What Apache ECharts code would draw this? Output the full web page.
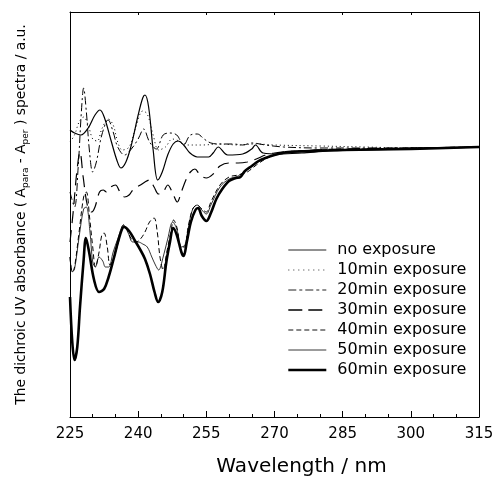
<!DOCTYPE html>
<html><head><meta charset="utf-8">
<script src="https://cdn.jsdelivr.net/npm/echarts@6/dist/echarts.min.js"></script>
<style>html,body{margin:0;padding:0;background:#fff}#c{width:494px;height:480px}</style>
</head><body><div id="c"></div>
<script>
const seriesNames = ['no exposure','10min exposure','20min exposure','30min exposure','40min exposure','50min exposure','60min exposure'];
const xTicks = [225,240,255,270,285,300,315];

const noExposure = [[225,0.17],[226,0.14],[227.4,0.12],[229,0.19],[230.5,0.32],[231.6,0.37],[232.6,0.29],[234,0.07],[235.3,-0.13],[236.2,-0.21],[237.3,-0.15],[238.5,0.02],[240,0.32],[241,0.49],[241.5,0.52],[242.3,0.40],[243.3,-0.03],[244.3,-0.33],[245.3,-0.25],[246.5,-0.08],[247.7,0.03],[248.8,0.06],[250,0.02],[251.4,-0.06],[253,-0.10],[255.5,-0.10],[256.5,-0.06],[257.6,0.00],[259.7,-0.08],[263,-0.07],[265,-0.02],[265.8,0.02],[267.5,-0.06],[271,-0.07],[276,-0.06],[282,-0.04],[290,-0.03],[300,-0.02],[308,-0.01],[315,0.0]];
const tenMin = [[225,0.05],[226,0.12],[227,0.25],[228,0.30],[229,0.22],[230,0.08],[231,0.06],[232,0.18],[233.4,0.28],[234.5,0.22],[235.5,0.05],[236.5,-0.03],[238,0.0],[239.5,0.20],[241,0.36],[242,0.33],[243.3,0.12],[244.5,-0.03],[246,0.0],[247.5,0.08],[249,0.06],[251,0.02],[254,0.02],[258,0.03],[262,0.02],[266,0.03],[270,0.02],[280,0.01],[290,0.0],[300,-0.01],[315,0.0]];
const twentyMin = [[225,-0.45],[226,-0.6],[226.8,-0.2],[227.5,0.35],[228.0,0.59],[228.6,0.35],[229.3,-0.05],[230,-0.25],[230.8,-0.15],[232,0.12],[233.4,0.27],[234.5,0.15],[235.5,0.0],[237,-0.08],[238.5,-0.02],[240,0.08],[241.2,0.18],[242.5,0.05],[244,-0.02],[245.5,0.12],[247,0.14],[248.5,0.12],[250,0.02],[251.5,0.12],[253,0.13],[254.5,0.08],[256,0.04],[258,0.03],[261,0.03],[263,0.02],[265,0.04],[268,0.02],[272,0.0],[280,-0.01],[290,-0.01],[300,-0.01],[315,0.0]];
const thirtyMin = [[225,-0.95],[225.7,-0.65],[226.5,-0.25],[227.2,-0.05],[227.9,-0.3],[228.9,-0.6],[229.8,-0.65],[230.5,-0.6],[231.5,-0.45],[232.3,-0.43],[233,-0.45],[234,-0.40],[235,-0.38],[236,-0.45],[237,-0.50],[238,-0.48],[239,-0.42],[240.5,-0.38],[241.5,-0.35],[242.5,-0.33],[243.5,-0.40],[244.5,-0.47],[245.5,-0.45],[246.5,-0.38],[247.5,-0.45],[248.6,-0.55],[249.5,-0.45],[250.5,-0.33],[251.5,-0.25],[252.5,-0.22],[253.6,-0.28],[255,-0.31],[256.5,-0.27],[258,-0.19],[260,-0.16],[262,-0.16],[264,-0.15],[266,-0.12],[268,-0.08],[270,-0.06],[275,-0.04],[285,-0.02],[300,-0.01],[315,0.0]];
const fortyMin = [[225,-1.1],[225.5,-1.25],[226,-1.2],[227,-0.85],[228,-0.5],[228.6,-0.45],[229.3,-0.7],[230,-1.0],[230.6,-1.2],[231.4,-1.05],[232,-0.88],[232.5,-0.86],[233.2,-1.0],[233.8,-1.18],[234.5,-1.12],[235.5,-0.98],[236.8,-0.78],[237.5,-0.82],[238.5,-0.92],[239.5,-0.95],[240.5,-0.92],[241.5,-0.85],[242.5,-0.75],[243.5,-0.71],[244.2,-0.85],[244.8,-1.1],[245.5,-1.23],[246.3,-1.05],[247.2,-0.85],[247.8,-0.73],[248.5,-0.8],[249.5,-1.0],[250.2,-1.0],[251,-0.8],[252,-0.62],[253,-0.58],[254,-0.62],[255,-0.65],[256,-0.55],[258,-0.38],[260,-0.30],[262,-0.28],[264,-0.25],[266,-0.18],[268,-0.12],[270,-0.08],[273,-0.05],[280,-0.03],[290,-0.02],[300,-0.01],[315,0.0]];
const fiftyMin = [[225,-1.1],[225.5,-1.25],[226,-1.22],[227,-0.9],[228,-0.62],[228.6,-0.6],[229.4,-0.85],[230,-1.15],[230.6,-1.2],[231.4,-1.1],[232.2,-1.14],[232.8,-1.2],[233.5,-1.2],[234.5,-1.05],[235.5,-0.92],[236.8,-0.78],[237.8,-0.86],[238.8,-0.95],[240,-0.95],[241,-0.97],[242,-1.0],[243,-1.1],[243.8,-1.18],[244.5,-1.23],[245.5,-1.1],[246.5,-0.92],[247.6,-0.75],[248.5,-0.82],[249.5,-1.0],[250.3,-0.98],[251,-0.82],[252,-0.62],[253,-0.58],[254,-0.63],[255,-0.67],[256,-0.58],[258,-0.40],[260,-0.32],[262,-0.29],[264,-0.22],[266,-0.16],[268,-0.11],[270,-0.08],[275,-0.05],[285,-0.03],[300,-0.01],[315,0.0]];
const sixtyMin = [[225,-1.5],[225.5,-1.95],[226,-2.13],[226.6,-2.0],[227.2,-1.6],[228,-1.13],[228.5,-0.91],[229.2,-1.05],[230.3,-1.33],[231.4,-1.45],[232.5,-1.42],[233.5,-1.30],[234.6,-1.12],[236,-0.88],[236.9,-0.80],[238,-0.84],[239.2,-0.93],[240.5,-1.03],[241.5,-1.12],[242.6,-1.27],[243.6,-1.45],[244.4,-1.55],[245.3,-1.45],[246.2,-1.15],[247,-0.95],[247.7,-0.81],[248.5,-0.88],[249.5,-1.05],[250,-1.09],[250.7,-0.95],[251.6,-0.75],[252.6,-0.63],[253.2,-0.61],[254,-0.69],[255,-0.74],[256,-0.66],[257.2,-0.52],[258.5,-0.42],[260,-0.34],[261.5,-0.31],[262.5,-0.30],[263.5,-0.24],[265,-0.19],[266.5,-0.14],[268,-0.11],[270,-0.08],[273,-0.05],[278,-0.04],[285,-0.03],[300,-0.02],[315,0.0]];

const allData = [noExposure, tenMin, twentyMin, thirtyMin, fortyMin, fiftyMin, sixtyMin];
const styles = [
  {width:1.2, type:'solid'},
  {width:1, type:[1,3]},
  {width:1, type:[8,3,2,3]},
  {width:1.2, type:[12,7]},
  {width:1, type:[5,3]},
  {width:0.8, type:'solid'},
  {width:2.6, type:'solid'}
];
const legendStyles = [
  {width:1, type:'solid', color:'#222'},
  {width:1, type:[1,4], color:'#333'},
  {width:1, type:[8,3,3,3], color:'#222'},
  {width:1.5, type:[14,6], color:'#000'},
  {width:1, type:[5,3], color:'#111'},
  {width:0.9, type:'solid', color:'#222'},
  {width:2.6, type:'solid', color:'#000'}
];
const font = 'DejaVu Sans, Liberation Sans, Arial, sans-serif';
const chart = echarts.init(document.getElementById('c'), null, {renderer:'canvas'});
chart.setOption({
  animation:false,
  backgroundColor:'#fff',
  grid:{left:70, right:15, top:12, bottom:63, outerBoundsMode:'none', containLabel:false},
  legend:{
    orient:'vertical', left:287, top:240, itemWidth:38, itemHeight:20, itemGap:0, padding:0,
    data:seriesNames.map((n,i)=>({name:n, lineStyle:legendStyles[i]})),
    itemStyle:{opacity:0},
    textStyle:{fontFamily:font, fontSize:16, color:'#000', lineHeight:20, padding:[0,0,0,6]}
  },
  xAxis:[{
    type:'value', min:225, max:315, interval:15, position:'bottom',
    axisLine:{onZero:false, lineStyle:{color:'#000', width:1}},
    axisTick:{inside:true, length:6, lineStyle:{color:'#000'}},
    minorTick:{show:true, splitNumber:3, length:3, lineStyle:{color:'#000'}},
    axisLabel:{color:'#000', fontFamily:font, fontSize:15, margin:10},
    splitLine:{show:false},
    name:'Wavelength / nm', nameLocation:'middle', nameGap:40,
    nameTextStyle:{color:'#000', fontFamily:font, fontSize:20, padding:[0,0,0,54]}
  },{
    type:'value', min:225, max:315, interval:15, position:'top',
    axisLine:{onZero:false, lineStyle:{color:'#000'}},
    axisTick:{inside:true, length:3, lineStyle:{color:'#000'}},
    axisLabel:{show:false}, splitLine:{show:false}
  }],
  yAxis:[{
    type:'value', min:-2.7, max:1.35, position:'left',
    axisLine:{show:true, onZero:false, lineStyle:{color:'#000'}},
    axisTick:{show:false}, axisLabel:{show:false}, splitLine:{show:false},
    name:'The dichroic UV absorbance ( A{s|para} - A{s|per} ) spectra / a.u.',
    nameLocation:'middle', nameGap:40,
    nameTextStyle:{color:'#000', fontFamily:font, fontSize:13.8, lineHeight:18,
      rich:{s:{fontFamily:font, fontSize:9, color:'#000', verticalAlign:'bottom', lineHeight:13}}}
  },{
    type:'value', min:-2.7, max:1.35, position:'right',
    axisLine:{show:true, onZero:false, lineStyle:{color:'#000'}},
    axisTick:{show:false}, axisLabel:{show:false}, splitLine:{show:false}
  }],
  series: seriesNames.map((n,i)=>({
    name:n, type:'line', data:allData[i], symbol:'none', smooth:0.35,
    color:'#000',
    lineStyle:{color:'#000', width:styles[i].width, type:styles[i].type}
  }))
});
</script></body></html>
